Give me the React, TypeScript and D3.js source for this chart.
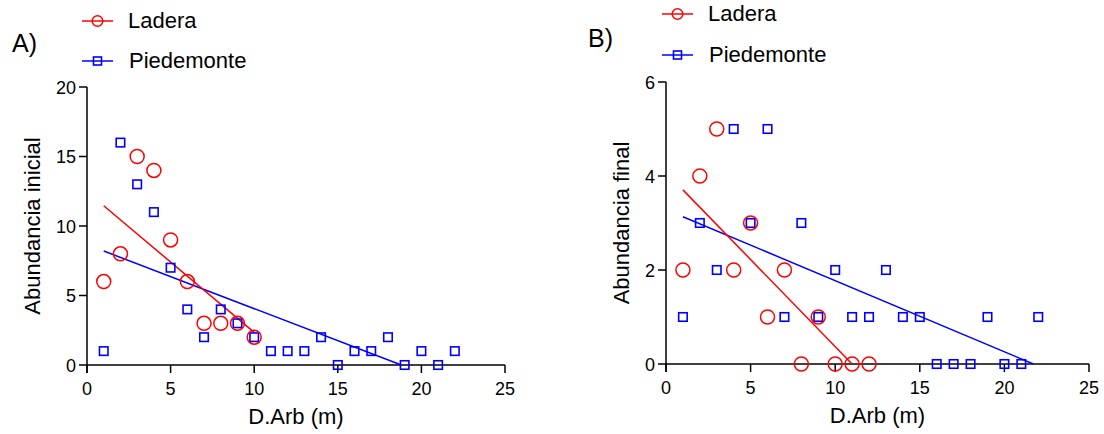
import React from 'react';
import * as d3 from 'd3';

// ---------- DATA ----------
const xTicks = [0, 5, 10, 15, 20, 25];
const yTicksA = [0, 5, 10, 15, 20];
const yTicksB = [0, 2, 4, 6];

const seriesNames = ['Ladera', 'Piedemonte'];

const distA_ladera = [1, 2, 3, 4, 5, 6, 7, 8, 9, 10];
const abundA_ladera = [6, 8, 15, 14, 9, 6, 3, 3, 3, 2];
const distA_pied = [1, 2, 3, 4, 5, 6, 7, 8, 9, 10, 11, 12, 13, 14, 15, 16, 17, 18, 19, 20, 21, 22];
const abundA_pied = [1, 16, 13, 11, 7, 4, 2, 4, 3, 2, 1, 1, 1, 2, 0, 1, 1, 2, 0, 1, 0, 1];

const distB_ladera = [1, 2, 3, 4, 5, 6, 7, 8, 9, 10, 11, 12];
const abundB_ladera = [2, 4, 5, 2, 3, 1, 2, 0, 1, 0, 0, 0];
const distB_pied = [1, 2, 3, 4, 5, 6, 7, 8, 9, 10, 11, 12, 13, 14, 15, 16, 17, 18, 19, 20, 21, 22];
const abundB_pied = [1, 3, 2, 5, 3, 5, 1, 3, 1, 2, 1, 1, 2, 1, 1, 0, 0, 0, 1, 0, 0, 1];

const RED = '#ff0000';
const BLUE = '#0000ff';
const FONT = '"Liberation Sans", Arial, Helvetica, sans-serif';

function regression(xs: number[], ys: number[]) {
  const mx = d3.mean(xs)!;
  const my = d3.mean(ys)!;
  let sxy = 0, sxx = 0;
  xs.forEach((x, i) => { sxy += (x - mx) * (ys[i] - my); sxx += (x - mx) * (x - mx); });
  const slope = sxy / sxx;
  const intercept = my - slope * mx;
  const x0 = d3.min(xs)!;
  let x1 = d3.max(xs)!;
  if (slope < 0) {
    const xz = -intercept / slope;
    if (xz < x1) x1 = xz;
  }
  return [[x0, intercept + slope * x0], [x1, intercept + slope * x1]] as [number, number][];
}

function Circle({ cx, cy, r, color }: any) {
  return <circle cx={cx} cy={cy} r={r} fill="none" stroke={color} strokeWidth={1.5} />;
}
function Square({ cx, cy, s, color }: any) {
  return <rect x={cx - s / 2} y={cy - s / 2} width={s} height={s} fill="none" stroke={color} strokeWidth={1.6} />;
}

type PanelProps = {
  xr: [number, number];
  yr: [number, number];
  yMax: number;
  yTicks: number[];
  yTitle: string;
  yTitleX: number;
  label: string;
  labelX: number;
  labelY: number;
  legX: number;
  legY: [number, number];
  lad: [number[], number[]];
  pied: [number[], number[]];
};

function Panel(p: PanelProps) {
  const x = d3.scaleLinear().domain([0, 25]).range(p.xr);
  const y = d3.scaleLinear().domain([0, p.yMax]).range(p.yr);
  const line = d3.line<[number, number]>().x(d => x(d[0])).y(d => y(d[1]));
  const regL = regression(p.lad[0], p.lad[1]);
  const regP = regression(p.pied[0], p.pied[1]);
  const base = p.yr[0];
  const left = p.xr[0];
  const tick = 8;
  return (
    <g fontFamily={FONT} fill="#000">
      {/* panel label */}
      <text x={p.labelX} y={p.labelY} fontSize={25}>{p.label}</text>
      {/* legend */}
      <line x1={p.legX} x2={p.legX + 31} y1={p.legY[0]} y2={p.legY[0]} stroke={RED} strokeWidth={1.5} />
      <Circle cx={p.legX + 15.5} cy={p.legY[0]} r={5.3} color={RED} />
      <text x={p.legX + 46} y={p.legY[0] + 7} fontSize={22}>{seriesNames[0]}</text>
      <line x1={p.legX} x2={p.legX + 31} y1={p.legY[1]} y2={p.legY[1]} stroke={BLUE} strokeWidth={1.5} />
      <Square cx={p.legX + 15.5} cy={p.legY[1]} s={8} color={BLUE} />
      <text x={p.legX + 47} y={p.legY[1] + 7} fontSize={22}>{seriesNames[1]}</text>

      {/* axes */}
      <line x1={left} x2={p.xr[1]} y1={base} y2={base} stroke="#000" strokeWidth={1.5} />
      <line x1={left} x2={left} y1={p.yr[1]} y2={base + tick} stroke="#000" strokeWidth={1.5} />
      {xTicks.map(t => (
        <g key={'x' + t}>
          <line x1={x(t)} x2={x(t)} y1={base} y2={base + tick} stroke="#000" strokeWidth={1.5} />
          <text x={x(t)} y={base + 30} fontSize={18} textAnchor="middle">{t}</text>
        </g>
      ))}
      {p.yTicks.map(t => (
        <g key={'y' + t}>
          <line x1={left - tick} x2={left} y1={y(t)} y2={y(t)} stroke="#000" strokeWidth={1.5} />
          <text x={left - 11} y={y(t) + 6.5} fontSize={18} textAnchor="end">{t}</text>
        </g>
      ))}
      <text x={(p.xr[0] + p.xr[1]) / 2} y={base + 59} fontSize={22} textAnchor="middle">D.Arb (m)</text>
      <text transform={`translate(${p.yTitleX},${(p.yr[0] + p.yr[1]) / 2}) rotate(-90)`} fontSize={22} textAnchor="middle">{p.yTitle}</text>

      {/* regression lines */}
      <path d={line(regP)!} fill="none" stroke={BLUE} strokeWidth={1.5} />
      <path d={line(regL)!} fill="none" stroke={RED} strokeWidth={1.5} />

      {/* points */}
      {p.pied[0].map((d, i) => (
        <Square key={'p' + i} cx={x(d)} cy={y(p.pied[1][i])} s={8.5} color={BLUE} />
      ))}
      {p.lad[0].map((d, i) => (
        <Circle key={'l' + i} cx={x(d)} cy={y(p.lad[1][i])} r={7} color={RED} />
      ))}
    </g>
  );
}

export default function App() {
  return (
    <svg width={1104} height={434} style={{ position: 'absolute', left: 0, top: 0, background: '#fff' }}>
      <rect x={0} y={0} width={1104} height={434} fill="#fff" />
      <Panel
        xr={[87, 505]} yr={[365, 87]} yMax={20} yTicks={yTicksA}
        yTitle="Abundancia inicial" yTitleX={40}
        label="A)" labelX={12} labelY={52}
        legX={82} legY={[21, 61]}
        lad={[distA_ladera, abundA_ladera]} pied={[distA_pied, abundA_pied]}
      />
      <Panel
        xr={[666, 1089]} yr={[364, 82]} yMax={6} yTicks={yTicksB}
        yTitle="Abundancia final" yTitleX={629}
        label="B)" labelX={588} labelY={47}
        legX={662} legY={[14, 55]}
        lad={[distB_ladera, abundB_ladera]} pied={[distB_pied, abundB_pied]}
      />
    </svg>
  );
}
